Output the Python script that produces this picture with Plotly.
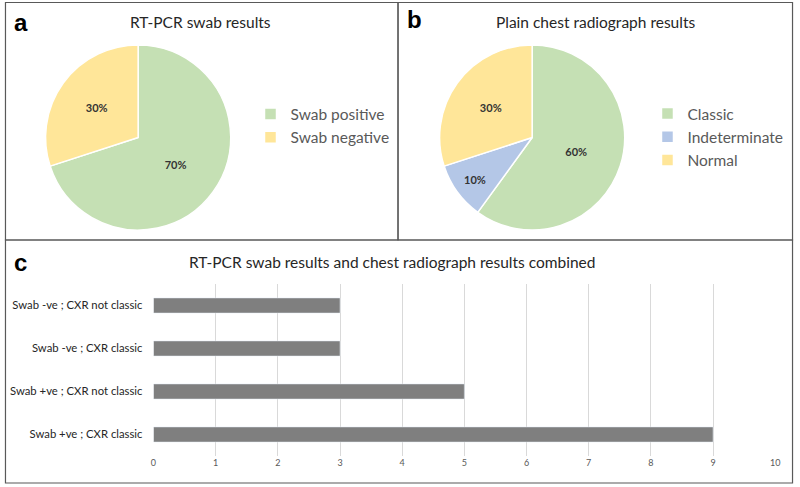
import plotly.graph_objects as go

# Data
swab_labels = ["Swab positive", "Swab negative"]
swab_values = [70, 30]
cxr_labels = ["Classic", "Indeterminate", "Normal"]
cxr_values = [60, 10, 30]
combo_labels = ["Swab +ve ; CXR classic", "Swab +ve ; CXR not classic",
                "Swab -ve ; CXR classic", "Swab -ve ; CXR not classic"]
combo_values = [9, 5, 3, 3]
x_ticks = list(range(0, 11))

W, H = 800, 487
def px(x):
    return x / W
def py(y):
    return 1 - y / H

FONT = "Lato, 'Open Sans', sans-serif"
GREEN, YELLOW, BLUE = "#C5E0B4", "#FFE699", "#B4C7E7"

fig = go.Figure()

fig.add_trace(go.Pie(
    labels=swab_labels, values=swab_values, sort=False, direction="clockwise",
    marker=dict(colors=[GREEN, YELLOW], line=dict(color="white", width=1.5)),
    textinfo="percent", textposition="inside", insidetextorientation="horizontal",
    textfont=dict(family=FONT, size=11, color="#333333", weight="bold"),
    domain=dict(x=[px(43), px(230)], y=[py(231), py(44)]),
    legend="legend", hoverinfo="label+percent",
))
fig.add_trace(go.Pie(
    labels=cxr_labels, values=cxr_values, sort=False, direction="clockwise",
    marker=dict(colors=[GREEN, BLUE, YELLOW], line=dict(color="white", width=1.5)),
    textinfo="percent", textposition="inside", insidetextorientation="horizontal",
    textfont=dict(family=FONT, size=11, color="#333333", weight="bold"),
    domain=dict(x=[px(441), px(628)], y=[py(231), py(44)]),
    legend="legend2", hoverinfo="label+percent",
))
fig.add_trace(go.Bar(
    y=combo_labels, x=combo_values, orientation="h",
    marker=dict(color="#7F7F7F"), showlegend=False, xaxis="x", yaxis="y",
))

border = dict(color="#595959", width=1.2)
shapes = [
    dict(type="rect", xref="paper", yref="paper", x0=px(2.5), x1=px(399), y0=py(240), y1=py(2.5), line=border),
    dict(type="rect", xref="paper", yref="paper", x0=px(399), x1=px(797.5), y0=py(240), y1=py(2.5), line=border),
    dict(type="rect", xref="paper", yref="paper", x0=px(2.5), x1=px(797.5), y0=py(483), y1=py(240), line=border),
]

def ann(text, x, y, size, family=FONT, color="#262626"):
    return dict(text=text, x=px(x), y=py(y), xref="paper", yref="paper", showarrow=False,
                xanchor="center", yanchor="middle", font=dict(family=family, size=size, color=color))

annotations = [
    ann("RT-PCR swab results", 199, 22, 15.5),
    ann("Plain chest radiograph results", 598, 22, 15.5),
    ann("RT-PCR swab results and chest radiograph results combined", 393, 262, 15.5),
    ann("<b>a</b>", 18, 22, 24, "Liberation Sans, Arial", "black"),
    ann("<b>b</b>", 416, 20, 24, "Liberation Sans, Arial", "black"),
    ann("<b>c</b>", 18, 262, 24, "Liberation Sans, Arial", "black"),
]

fig.update_layout(
    width=W, height=H, margin=dict(l=0, r=0, t=0, b=0),
    paper_bgcolor="white", plot_bgcolor="white",
    font=dict(family=FONT, color="#595959"),
    shapes=shapes, annotations=annotations,
    legend=dict(x=px(250), y=py(126), yanchor="middle", xanchor="left",
                font=dict(family=FONT, size=15.5, color="#595959"), bgcolor="rgba(0,0,0,0)"),
    legend2=dict(x=px(651), y=py(137), yanchor="middle", xanchor="left",
                 font=dict(family=FONT, size=15.5, color="#595959"), bgcolor="rgba(0,0,0,0)"),
    xaxis=dict(domain=[px(152), px(780)], range=[0, 10], tickvals=x_ticks,
               showgrid=True, gridcolor="#D9D9D9", gridwidth=1, zeroline=False,
               showline=False, ticks="", tickfont=dict(family=FONT, size=9, color="#595959"),
               anchor="y", fixedrange=True),
    yaxis=dict(domain=[py(456), py(284)], type="category", showgrid=False, showline=False,
               ticks="", ticklabelstandoff=10, tickfont=dict(family=FONT, size=11.3, color="#262626"),
               anchor="x", fixedrange=True),
    bargap=0.65,
)

post = ("document.documentElement.style.margin='0';document.documentElement.style.padding='0';"
        "document.documentElement.style.overflow='hidden';"
        "document.body.style.margin='0';document.body.style.padding='0';document.body.style.overflow='hidden';")
fig.write_html("out.html", post_script=post, config={"displayModeBar": False})
